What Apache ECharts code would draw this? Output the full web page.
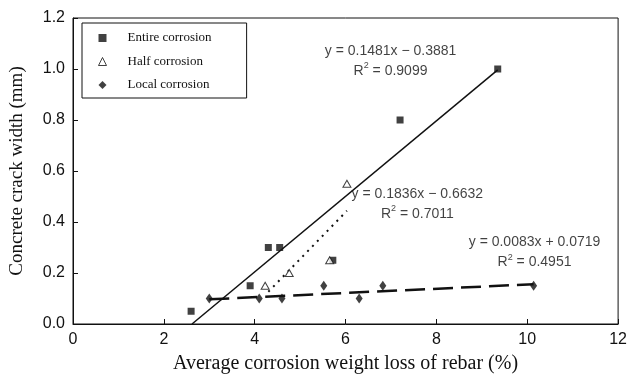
<!DOCTYPE html>
<html>
<head>
<meta charset="utf-8">
<script src="https://cdn.jsdelivr.net/npm/echarts@6/dist/echarts.min.js"></script>
<style>
  html, body { margin: 0; padding: 0; background: #fff; }
  #chart { width: 630px; height: 381px; }
</style>
</head>
<body>
<div id="chart"></div>
<script>
// Measured specimens: corrosion weight loss (%) vs. crack width (mm)
const entireX = [2.6, 3.9, 4.3, 4.55, 5.72, 7.2, 9.35];
const entireY = [0.05, 0.15, 0.30, 0.30, 0.25, 0.80, 1.00];
const halfX = [4.23, 4.76, 5.65, 6.03];
const halfY = [0.15, 0.20, 0.25, 0.55];
const localX = [3.0, 4.1, 4.6, 5.52, 6.3, 6.82, 10.14];
const localY = [0.10, 0.10, 0.10, 0.15, 0.10, 0.15, 0.15];

// Linear fits: [slope, intercept], x range over which each is drawn, R^2
const entireFit = [0.1481, -0.3881];
const entireRange = [2.62, 9.35];
const entireR2 = '0.9099';
const halfFit = [0.1836, -0.6632];
const halfRange = [4.3, 6.03];
const halfR2 = '0.7011';
const localFit = [0.0083, 0.0719];
const localRange = [3.0, 10.14];
const localR2 = '0.4951';

// Where each fit equation is written (data coordinates of the text block centre)
const entireEqAt = [6.99, 1.03];
const halfEqAt = [7.58, 0.47];
const localEqAt = [10.16, 0.28];

const xTicks = [0, 2, 4, 6, 8, 10, 12];
const yTicks = [0.0, 0.2, 0.4, 0.6, 0.8, 1.0, 1.2];

const seriesNames = ['Entire corrosion', 'Half corrosion', 'Local corrosion'];

function zip(xs, ys) { return xs.map((x, i) => [x, ys[i]]); }
function fitLine(fit, range) {
  return range.map(x => [x, fit[0] * x + fit[1]]);
}
function fmt(n) { return Math.abs(n).toFixed(4); }
function eqLabel(fit, r2) {
  const sign = fit[1] < 0 ? '\u2212' : '+';
  return '{t|y = ' + fit[0].toFixed(4) + 'x ' + sign + ' ' + fmt(fit[1]) + '}\n' +
         '{t|R}{s|2}{t| = ' + r2 + '}';
}

const sansFont = '"Liberation Sans", Arial, sans-serif';
const serifFont = '"Liberation Serif", "Times New Roman", serif';

function eqSeries(at, fit, r2) {
  return {
    type: 'scatter',
    silent: true,
    symbolSize: 0,
    z: 5,
    data: [at],
    label: {
      show: true,
      position: 'inside',
      align: 'center',
      verticalAlign: 'middle',
      formatter: () => eqLabel(fit, r2),
      rich: {
        t: { fontFamily: sansFont, fontSize: 14, color: '#111', lineHeight: 20 },
        s: { fontFamily: sansFont, fontSize: 9, color: '#111', lineHeight: 20, verticalAlign: 'top', padding: [0, 0, 8, 0] }
      }
    }
  };
}

const chart = echarts.init(document.getElementById('chart'), null, { renderer: 'canvas' });

chart.setOption({
  animation: false,
  backgroundColor: '#fff',
  grid: {
    left: 73, right: 10, top: 18, bottom: 57,
    show: true, borderColor: '#111', borderWidth: 1, backgroundColor: 'transparent'
  },
  legend: {
    data: [
      { name: seriesNames[0], icon: 'rect', itemStyle: { color: '#111' } },
      { name: seriesNames[1], icon: 'triangle', itemStyle: { color: '#fff', borderColor: '#111', borderWidth: 1 } },
      { name: seriesNames[2], icon: 'diamond', itemStyle: { color: '#111' } }
    ],
    orient: 'vertical',
    left: 82, top: 23,
    itemWidth: 8, itemHeight: 8,
    symbolKeepAspect: true,
    itemGap: 9.5,
    padding: [8, 35, 6, 16],
    backgroundColor: '#fff',
    borderColor: '#111',
    borderWidth: 1,
    borderRadius: 0,
    textStyle: { fontFamily: serifFont, fontSize: 13, color: '#111', lineHeight: 14, padding: [0, 0, 0, 16] }
  },
  xAxis: {
    type: 'value',
    min: xTicks[0], max: xTicks[xTicks.length - 1], interval: 2,
    name: 'Average corrosion weight loss of rebar (%)',
    nameLocation: 'middle', nameGap: 30,
    nameTextStyle: { fontFamily: serifFont, fontSize: 20, color: '#111' },
    axisLine: { show: true, lineStyle: { color: '#111', width: 1 } },
    axisTick: { show: true, inside: true, length: 5, lineStyle: { color: '#111' } },
    axisLabel: { fontFamily: sansFont, fontSize: 16, color: '#111', margin: 8 },
    splitLine: { show: false }
  },
  yAxis: {
    type: 'value',
    min: yTicks[0], max: yTicks[yTicks.length - 1], interval: 0.2,
    name: 'Concrete crack width (mm)',
    nameLocation: 'middle', nameGap: 46,
    nameTextStyle: { fontFamily: serifFont, fontSize: 19, color: '#111' },
    axisLine: { show: true, lineStyle: { color: '#111', width: 1 } },
    axisTick: { show: true, inside: true, length: 5, lineStyle: { color: '#111' } },
    axisLabel: { fontFamily: sansFont, fontSize: 16, color: '#111', margin: 8, formatter: v => v.toFixed(1) },
    splitLine: { show: false }
  },
  series: [
    {
      name: seriesNames[0], type: 'scatter', symbol: 'rect', symbolSize: 7, z: 3,
      itemStyle: { color: '#111' },
      data: zip(entireX, entireY)
    },
    {
      name: seriesNames[1], type: 'scatter', symbol: 'triangle', symbolSize: [8, 7], z: 4,
      itemStyle: { color: '#fff', borderColor: '#111', borderWidth: 1 },
      data: zip(halfX, halfY)
    },
    {
      name: seriesNames[2], type: 'scatter', symbol: 'diamond', symbolSize: [7, 10], z: 4,
      itemStyle: { color: '#111' },
      data: zip(localX, localY)
    },
    {
      type: 'line', silent: true, symbol: 'none', z: 2,
      lineStyle: { color: '#111', width: 1.5, type: 'solid' },
      data: fitLine(entireFit, entireRange)
    },
    {
      type: 'line', silent: true, symbol: 'none', z: 2,
      lineStyle: { color: '#111', width: 2, type: [2, 5] },
      data: fitLine(halfFit, halfRange)
    },
    {
      type: 'line', silent: true, symbol: 'none', z: 2,
      lineStyle: { color: '#111', width: 2.5, type: [20, 8] },
      data: fitLine(localFit, localRange)
    },
    eqSeries(entireEqAt, entireFit, entireR2),
    eqSeries(halfEqAt, halfFit, halfR2),
    eqSeries(localEqAt, localFit, localR2)
  ]
});
</script>
</body>
</html>
